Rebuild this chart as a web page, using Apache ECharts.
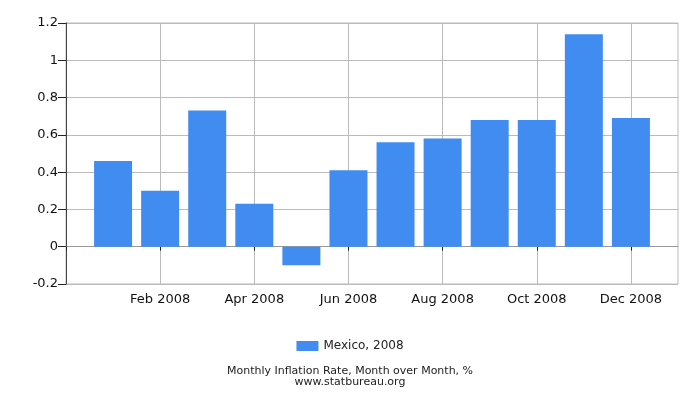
<!DOCTYPE html>
<html>
<head>
<meta charset="utf-8">
<script src="https://cdn.jsdelivr.net/npm/echarts@6/dist/echarts.min.js"></script>
<style>
  html, body { margin: 0; padding: 0; background: #fff; }
  #chart { width: 700px; height: 400px; }
</style>
</head>
<body>
<div id="chart"></div>
<script>
// months of 2008, padded by an empty slot on each side
const months = ['Jan 2008', 'Feb 2008', 'Mar 2008', 'Apr 2008', 'May 2008', 'Jun 2008',
  'Jul 2008', 'Aug 2008', 'Sep 2008', 'Oct 2008', 'Nov 2008', 'Dec 2008'];
const mexico2008 = [0.46, 0.30, 0.73, 0.23, -0.10, 0.41, 0.56, 0.58, 0.68, 0.68, 1.14, 0.69];
const seriesName = 'Mexico, 2008';

const cats = [''].concat(months, ['']);
const values = ['-'].concat(mexico2008, ['-']);
// only even months (Feb, Apr, ...) get a label, grid line and tick
const showEven = idx => idx % 2 === 0 && idx < cats.length - 1;

let chart = echarts.init(document.getElementById('chart'));
chart.setOption({
  animation: false,
  textStyle: { fontFamily: 'DejaVu Sans' },
  grid: {
    left: 66, right: 22, top: 23, bottom: 116,
    show: true, borderColor: '#bbb', borderWidth: 1,
  },
  legend: {
    top: 335,
    left: 'center',
    itemWidth: 22,
    itemHeight: 10,
    itemGap: 4,
    icon: 'rect',
    textStyle: { fontSize: 12, color: '#222' },
    data: [seriesName],
  },
  title: {
    text: 'Monthly Inflation Rate, Month over Month, %',
    subtext: 'www.statbureau.org',
    left: 'center',
    top: 366,
    itemGap: 0,
    padding: 0,
    textStyle: { fontSize: 11, fontWeight: 'normal', color: '#222' },
    subtextStyle: { fontSize: 11, color: '#222' },
  },
  xAxis: {
    type: 'category',
    boundaryGap: false,
    data: cats,
    axisLine: { lineStyle: { color: '#999' } },
    axisTick: { interval: showEven, length: 4, lineStyle: { color: '#222' } },
    axisLabel: { interval: showEven, margin: 9, fontSize: 13, color: '#111' },
    splitLine: { show: true, interval: showEven, lineStyle: { color: '#bbb' } },
  },
  yAxis: {
    type: 'value',
    min: -0.2,
    max: 1.2,
    interval: 0.2,
    axisLine: { show: true, lineStyle: { color: '#444' } },
    axisTick: { show: true, length: 8, lineStyle: { color: '#222' } },
    axisLabel: { fontSize: 13, color: '#111', margin: 8 },
    splitLine: { lineStyle: { color: '#bbb' } },
  },
  series: [{
    type: 'bar',
    name: seriesName,
    data: values,
    barWidth: 38,
    itemStyle: { color: '#418cf0' },
  }],
});
</script>
</body>
</html>
